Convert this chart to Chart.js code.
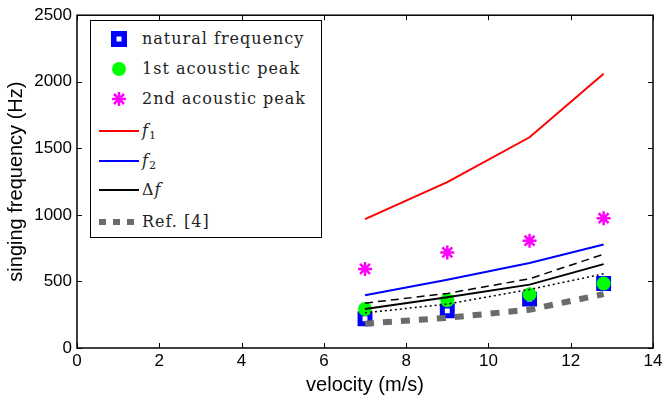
<!DOCTYPE html>
<html>
<head>
<meta charset="utf-8">
<script src="https://cdn.jsdelivr.net/npm/chart.js@4/dist/chart.umd.min.js"></script>
<style>
  html, body { margin: 0; padding: 0; background: #fff; }
  #wrap { position: relative; width: 666px; height: 401px; }
  #legend {
    position: absolute; left: 90px; top: 20px; width: 232px; height: 218px;
    border: 1.5px solid #000; background: #fff; box-sizing: border-box;
    font-family: "DejaVu Serif", serif; font-size: 16px; color: #222; letter-spacing: 1px;
  }
  #legend .row { position: absolute; left: 0; height: 24px; line-height: 24px; }
  #legend svg { position: absolute; left: 7px; top: 2px; }
  #legend span { position: absolute; left: 51px; white-space: nowrap; }
  #legend sub { font-size: 11px; vertical-align: -3px; line-height: 0; }
</style>
</head>
<body>
<div id="wrap">
  <canvas id="freqChart" width="666" height="401"></canvas>
  <div id="legend"></div>
</div>
<script>
const velocity = [7, 9, 11, 12.8];

const naturalFreq = [220, 279, 367, 484];
const firstPeak = [293, 359, 403, 484];
const secondPeak = [594, 718, 806, 975];
const f1 = [968, 1246, 1583, 2060];
const f2 = [396, 513, 638, 777];
const deltaF = [293, 381, 476, 630];
const deltaFUpper = [337, 410, 520, 704];
const deltaFLower = [264, 330, 440, 557];
const ref4 = [183, 227, 288, 405];

const xTicks = [0, 2, 4, 6, 8, 10, 12, 14];
const yTicks = [0, 500, 1000, 1500, 2000, 2500];

const pts = (ys) => velocity.map((v, i) => ({ x: v, y: ys[i] }));

// MATLAB style box with inward ticks
const boxPlugin = {
  id: "box",
  afterDraw(chart) {
    const { ctx, chartArea: a, scales } = chart;
    ctx.save();
    ctx.strokeStyle = "#000";
    ctx.lineWidth = 1.5;
    ctx.strokeRect(a.left, a.top, a.right - a.left, a.bottom - a.top);
    ctx.lineWidth = 1;
    ctx.beginPath();
    xTicks.forEach((t) => {
      const x = Math.round(scales.x.getPixelForValue(t)) + 0.5;
      ctx.moveTo(x, a.bottom); ctx.lineTo(x, a.bottom - 5);
      ctx.moveTo(x, a.top); ctx.lineTo(x, a.top + 5);
    });
    yTicks.forEach((t) => {
      const y = Math.round(scales.y.getPixelForValue(t)) + 0.5;
      ctx.moveTo(a.left, y); ctx.lineTo(a.left + 5, y);
      ctx.moveTo(a.right, y); ctx.lineTo(a.right - 5, y);
    });
    ctx.stroke();
    ctx.restore();
  },
};

const tickFont = { family: "'Liberation Sans', Arial, sans-serif", size: 17 };
const titleFont = { family: "'Liberation Sans', Arial, sans-serif", size: 20 };

new Chart(document.getElementById("freqChart"), {
  type: "line",
  data: {
    datasets: [
      { label: "natural frequency", data: pts(naturalFreq), showLine: false, pointStyle: "rect",
        pointRadius: 7, borderWidth: 5, borderColor: "#0000ff", backgroundColor: "#ffffff", order: 7 },
      { label: "1st acoustic peak", data: pts(firstPeak), showLine: false, pointStyle: "circle",
        pointRadius: 7, borderWidth: 0, borderColor: "#00ff00", backgroundColor: "#00ff00", order: 6 },
      { label: "2nd acoustic peak", data: pts(secondPeak), showLine: false, pointStyle: "star",
        pointRadius: 7, borderWidth: 2.5, borderColor: "#ff00ff", backgroundColor: "#ff00ff", order: 5 },
      { label: "f1", data: pts(f1), borderColor: "#ff0000", borderWidth: 2, pointRadius: 0, order: 4 },
      { label: "f2", data: pts(f2), borderColor: "#0000ff", borderWidth: 2, pointRadius: 0, order: 3 },
      { label: "Δf", data: pts(deltaF), borderColor: "#000", borderWidth: 2, pointRadius: 0, order: 2 },
      { label: "Δf upper", data: pts(deltaFUpper), borderColor: "#000", borderWidth: 1.5,
        borderDash: [8, 5], pointRadius: 0, order: 2 },
      { label: "Δf lower", data: pts(deltaFLower), borderColor: "#000", borderWidth: 1.5,
        borderDash: [2, 3], pointRadius: 0, order: 2 },
      { label: "Ref. [4]", data: pts(ref4), borderColor: "#6b6b6b", borderWidth: 6,
        borderDash: [9, 9], pointRadius: 0, order: 0 },
    ],
  },
  options: {
    responsive: false,
    animation: false,
    layout: { padding: { top: 7, right: 13, left: 0, bottom: 0 } },
    plugins: { legend: { display: false }, tooltip: { enabled: false } },
    scales: {
      x: {
        type: "linear", min: 0, max: 14,
        afterBuildTicks: (s) => { s.ticks = xTicks.map((v) => ({ value: v })); },
        afterFit: (s) => { s.height = 53; },
        grid: { display: false, drawTicks: false },
        border: { display: false },
        ticks: { font: tickFont, color: "#000", padding: 3, maxRotation: 0, callback: (v) => String(v) },
        title: { display: true, text: "velocity (m/s)", font: titleFont, color: "#000", padding: { top: 0, bottom: 4 } },
      },
      y: {
        min: 0, max: 2500,
        afterBuildTicks: (s) => { s.ticks = yTicks.map((v) => ({ value: v })); },
        afterFit: (s) => { s.width = 77; },
        grid: { display: false, drawTicks: false },
        border: { display: false },
        ticks: { font: tickFont, color: "#000", padding: 5, callback: (v) => String(v) },
        title: { display: true, text: "singing frequency (Hz)", font: titleFont, color: "#000", padding: { top: 4, bottom: 2 } },
      },
    },
  },
  plugins: [boxPlugin],
});

// legend drawn as html overlay inside the axes
const legendRows = [
  { top: 6, html: "natural frequency",
    svg: '<rect x="13" y="2" width="16" height="16" fill="#0000ff"/><rect x="18.5" y="7.5" width="5" height="5" fill="#fff"/>' },
  { top: 36, html: "1st acoustic peak", svg: '<circle cx="21" cy="10" r="7" fill="#00ff00"/>' },
  { top: 66, html: "2nd acoustic peak",
    svg: '<g stroke="#ff00ff" stroke-width="2.5"><line x1="21" y1="3" x2="21" y2="17"/><line x1="14" y1="10" x2="28" y2="10"/><line x1="16" y1="5" x2="26" y2="15"/><line x1="26" y1="5" x2="16" y2="15"/></g>' },
  { top: 98, html: "<i>f</i><sub>1</sub>", svg: '<line x1="1" y1="10" x2="41" y2="10" stroke="#ff0000" stroke-width="2"/>' },
  { top: 128, html: "<i>f</i><sub>2</sub>", svg: '<line x1="1" y1="10" x2="41" y2="10" stroke="#0000ff" stroke-width="2"/>' },
  { top: 157, html: "Δ<i>f</i>", svg: '<line x1="1" y1="10" x2="41" y2="10" stroke="#000" stroke-width="2"/>' },
  { top: 189, html: "Ref. [4]", svg: '<line x1="1" y1="10" x2="41" y2="10" stroke="#6b6b6b" stroke-width="6" stroke-dasharray="7,7"/>' },
];
const legendEl = document.getElementById("legend");
legendRows.forEach((r) => {
  const row = document.createElement("div");
  row.className = "row";
  row.style.top = r.top + "px";
  row.innerHTML = '<svg width="44" height="20">' + r.svg + "</svg><span>" + r.html + "</span>";
  legendEl.appendChild(row);
});
</script>
</body>
</html>
